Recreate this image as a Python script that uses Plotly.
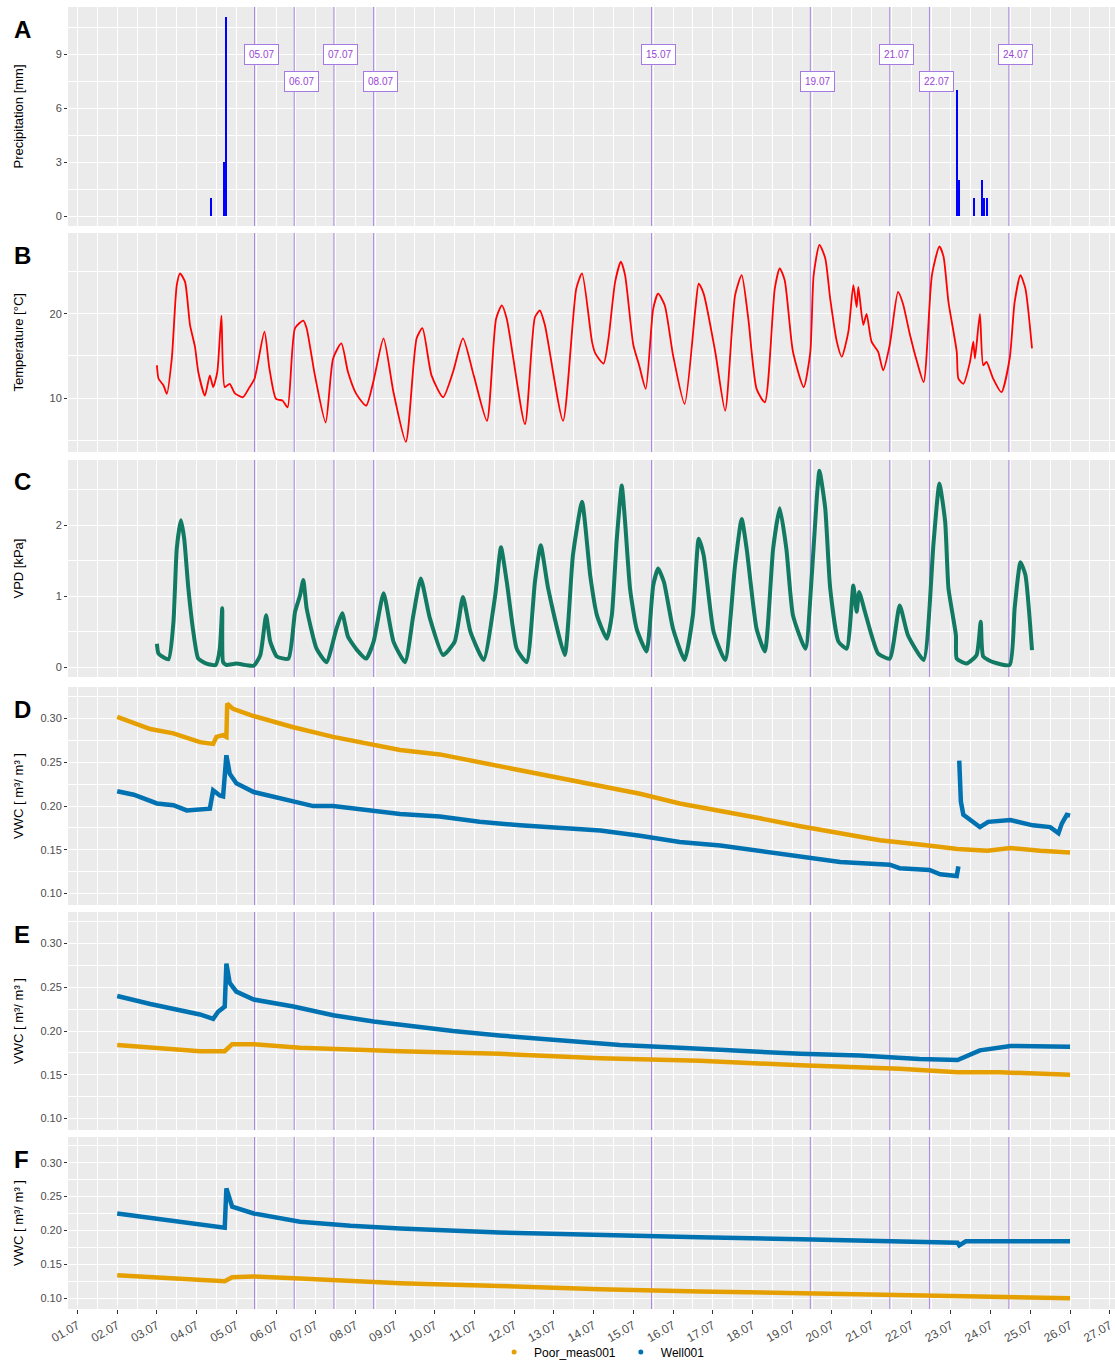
import pandas as pd
import plotly.graph_objects as go
from plotly.subplots import make_subplots

YEAR = 2021


def ts(labels):
    """Turn 'dd.mm HH:MM' strings into timestamps."""
    return pd.to_datetime([f"{YEAR}.{s}" for s in labels], format="%Y.%d.%m %H:%M")


# ---------------- data ----------------
precip_times = ["04.07 09:00", "04.07 17:00", "04.07 18:00",
                "23.07 04:00", "23.07 05:00", "23.07 14:00",
                "23.07 19:00", "23.07 20:00", "23.07 22:00"]
precip_mm = [1.0, 3.0, 11.1, 7.0, 2.0, 1.0, 2.0, 1.0, 1.0]

temp_times = [
    "03.07 00:00", "03.07 01:00", "03.07 04:00", "03.07 06:00", "03.07 09:00", "03.07 12:00",
    "03.07 14:00", "03.07 17:00", "03.07 20:00", "03.07 23:00", "04.07 01:00", "04.07 05:00",
    "04.07 08:00", "04.07 10:00", "04.07 12:30", "04.07 15:00", "04.07 17:00", "04.07 20:00",
    "04.07 23:00", "05.07 04:00", "05.07 08:00", "05.07 11:00", "05.07 17:00", "05.07 20:00",
    "06.07 00:00", "06.07 04:00", "06.07 07:00", "06.07 11:30", "06.07 16:30", "06.07 18:30",
    "06.07 23:30", "07.07 06:00", "07.07 10:30", "07.07 15:30", "07.07 19:30", "08.07 00:30",
    "08.07 06:30", "08.07 11:00", "08.07 17:00", "08.07 23:00", "09.07 06:30", "09.07 13:00",
    "09.07 16:30", "09.07 22:00", "10.07 05:00", "10.07 11:00", "10.07 17:00", "10.07 23:30",
    "11.07 07:30", "11.07 13:00", "11.07 16:30", "11.07 19:30", "12.07 06:30", "12.07 12:30",
    "12.07 15:30", "12.07 18:30", "13.07 05:30", "13.07 13:30", "13.07 17:00", "13.07 23:00",
    "14.07 01:00", "14.07 06:00", "14.07 09:00", "14.07 13:00", "14.07 16:30", "14.07 19:00",
    "15.07 00:00", "15.07 03:30", "15.07 07:30", "15.07 12:00", "15.07 15:00", "15.07 19:00",
    "16.07 00:00", "16.07 07:00", "16.07 13:30", "16.07 15:30", "16.07 18:30", "17.07 01:30",
    "17.07 07:30", "17.07 13:30", "17.07 17:30", "17.07 21:30", "18.07 02:30", "18.07 07:30",
    "18.07 13:30", "18.07 16:30", "18.07 19:30", "19.07 00:30", "19.07 07:00", "19.07 11:00",
    "19.07 13:00", "19.07 16:30", "19.07 20:00", "19.07 23:00", "20.07 03:00", "20.07 06:00",
    "20.07 10:00", "20.07 13:00", "20.07 15:00", "20.07 16:00", "20.07 19:00", "20.07 21:00",
    "21.07 00:00", "21.07 04:00", "21.07 07:00", "21.07 11:00", "21.07 16:00", "21.07 19:00",
    "21.07 23:00", "22.07 03:30", "22.07 07:30", "22.07 12:30", "22.07 17:00", "22.07 19:30",
    "22.07 22:30", "23.07 03:30", "23.07 04:30", "23.07 07:30", "23.07 11:30", "23.07 13:30",
    "23.07 14:30", "23.07 17:30", "23.07 19:30", "23.07 21:30", "24.07 01:30", "24.07 06:30",
    "24.07 11:30", "24.07 14:30", "24.07 18:00", "24.07 21:00", "25.07 01:00"]
temp_c = [
    13.9, 12.3, 11.5, 10.5, 14.7, 23.4,
    24.8, 23.8, 18.7, 16.1, 13.1, 10.3,
    12.7, 11.3, 13.1, 19.8, 11.3, 11.7,
    10.6, 10.1, 11.3, 12.3, 17.9, 13.5,
    9.9, 9.7, 8.9, 18.3, 19.2, 18.3,
    12.7, 7.1, 14.7, 16.5, 13.1, 10.5,
    9.1, 12.1, 17.1, 10.7, 4.8, 17.1,
    18.3, 12.7, 10.1, 13.1, 17.1, 12.7,
    7.3, 19.4, 21.0, 19.4, 6.9, 19.6,
    20.4, 18.7, 7.3, 23.0, 24.8, 16.7,
    15.3, 14.1, 17.1, 23.8, 26.2, 24.6,
    16.3, 13.9, 11.1, 20.6, 22.4, 21.0,
    15.1, 9.3, 20.6, 23.6, 22.4, 15.5,
    8.5, 22.2, 24.6, 19.4, 11.1, 9.5,
    23.0, 25.4, 24.0, 15.5, 11.3, 15.5,
    24.6, 28.2, 26.6, 21.8, 16.7, 14.9,
    17.9, 23.4, 20.8, 23.2, 18.7, 20.0,
    16.7, 15.5, 13.3, 16.3, 22.6, 21.2,
    17.7, 14.3, 11.9, 24.6, 28.0, 26.8,
    21.4, 15.5, 12.3, 11.7, 14.3, 16.7,
    14.7, 20.0, 13.9, 14.3, 12.3, 10.7,
    14.7, 21.4, 24.6, 23.0, 15.9]

vpd_times = [
    "03.07 00:00", "03.07 01:00", "03.07 07:00", "03.07 10:00", "03.07 12:00", "03.07 14:30",
    "03.07 16:30", "03.07 19:00", "03.07 22:00", "04.07 01:00", "04.07 06:00", "04.07 11:30",
    "04.07 14:00", "04.07 15:30", "04.07 16:00", "04.07 18:00", "05.07 00:00", "05.07 10:30",
    "05.07 14:30", "05.07 18:00", "05.07 20:30", "06.07 00:30", "06.07 07:30", "06.07 11:30",
    "06.07 14:30", "06.07 16:30", "06.07 18:30", "07.07 00:30", "07.07 06:30", "07.07 12:30",
    "07.07 16:00", "07.07 19:30", "08.07 01:00", "08.07 06:30", "08.07 11:00", "08.07 17:00",
    "08.07 23:00", "09.07 06:00", "09.07 11:00", "09.07 15:30", "09.07 21:00", "10.07 05:00",
    "10.07 12:00", "10.07 17:00", "10.07 21:30", "11.07 05:30", "11.07 12:30", "11.07 16:00",
    "11.07 19:30", "12.07 01:30", "12.07 07:30", "12.07 12:30", "12.07 16:00", "12.07 20:30",
    "13.07 06:30", "13.07 11:30", "13.07 17:00", "13.07 22:00", "14.07 02:00", "14.07 08:00",
    "14.07 11:00", "14.07 14:00", "14.07 17:00", "14.07 19:00", "14.07 22:00", "15.07 02:00",
    "15.07 08:00", "15.07 12:00", "15.07 15:00", "15.07 18:30", "16.07 00:00", "16.07 07:00",
    "16.07 12:00", "16.07 15:30", "16.07 18:30", "17.07 00:30", "17.07 07:30", "17.07 13:30",
    "17.07 17:30", "17.07 20:30", "18.07 02:30", "18.07 07:30", "18.07 12:30", "18.07 16:30",
    "18.07 20:30", "19.07 00:30", "19.07 08:00", "19.07 12:00", "19.07 15:00", "19.07 16:30",
    "19.07 20:00", "19.07 23:00", "20.07 04:00", "20.07 09:00", "20.07 13:00", "20.07 15:00",
    "20.07 16:30", "20.07 20:00", "21.07 00:00", "21.07 04:00", "21.07 11:00", "21.07 17:00",
    "21.07 22:00", "22.07 07:30", "22.07 13:30", "22.07 17:00", "22.07 20:30", "22.07 22:30",
    "23.07 03:00", "23.07 03:30", "23.07 09:30", "23.07 15:30", "23.07 18:00", "23.07 19:30",
    "24.07 01:30", "24.07 11:30", "24.07 14:30", "24.07 18:00", "24.07 21:00", "25.07 01:00"]
vpd_kpa = [
    0.33, 0.19, 0.11, 0.64, 1.67, 2.07,
    1.81, 1.11, 0.50, 0.12, 0.05, 0.03,
    0.26, 0.83, 0.07, 0.03, 0.05, 0.02,
    0.17, 0.73, 0.36, 0.15, 0.12, 0.78,
    1.01, 1.23, 0.83, 0.26, 0.07, 0.54,
    0.76, 0.43, 0.24, 0.12, 0.36, 1.04,
    0.36, 0.07, 0.73, 1.25, 0.69, 0.17,
    0.36, 0.99, 0.50, 0.10, 1.01, 1.69,
    1.20, 0.26, 0.07, 1.20, 1.72, 1.11,
    0.17, 1.58, 2.33, 1.28, 0.73, 0.40,
    0.73, 1.81, 2.56, 2.05, 1.11, 0.54,
    0.22, 1.15, 1.39, 1.20, 0.54, 0.10,
    0.73, 1.81, 1.58, 0.50, 0.10, 1.44,
    2.09, 1.67, 0.54, 0.22, 1.67, 2.24,
    1.67, 0.73, 0.26, 1.34, 2.42, 2.77,
    2.24, 1.11, 0.36, 0.26, 1.15, 0.78,
    1.06, 0.78, 0.45, 0.19, 0.12, 0.87,
    0.45, 0.10, 1.76, 2.59, 2.05, 1.11,
    0.45, 0.12, 0.05, 0.17, 0.64, 0.15,
    0.07, 0.03, 0.83, 1.48, 1.30, 0.24]

# soil moisture, depth D
d_poor_times = ["02.07 00:00", "02.07 20:00", "03.07 10:00", "04.07 02:00", "04.07 10:00", "04.07 12:00",
                "04.07 16:00", "04.07 18:00", "04.07 18:30", "04.07 22:00", "05.07 10:00", "06.07 10:30",
                "07.07 10:30", "08.07 09:00", "09.07 03:00", "10.07 03:00", "11.07 03:00", "12.07 03:30",
                "13.07 03:40", "14.07 04:00", "15.07 04:00", "16.07 04:00", "17.07 04:30", "18.07 04:30",
                "19.07 05:00", "20.07 05:00", "21.07 05:00", "22.07 05:00", "23.07 04:00", "23.07 22:00",
                "24.07 12:00", "25.07 06:00", "26.07 00:00"]
d_poor_vwc = [0.302, 0.288, 0.283, 0.273, 0.271, 0.279,
              0.281, 0.279, 0.317, 0.311, 0.303, 0.290,
              0.279, 0.271, 0.264, 0.259, 0.250, 0.241,
              0.232, 0.223, 0.214, 0.203, 0.195, 0.186,
              0.177, 0.169, 0.161, 0.156, 0.151, 0.149,
              0.152, 0.149, 0.147]

d_well_times = ["02.07 00:00", "02.07 10:00", "03.07 00:00", "03.07 10:00", "03.07 18:00", "04.07 08:00",
                "04.07 10:00", "04.07 14:00", "04.07 16:00", "04.07 18:00", "04.07 20:00", "05.07 00:00",
                "05.07 10:30", "06.07 10:30", "06.07 22:30", "07.07 10:30", "08.07 07:00", "09.07 03:00",
                "10.07 03:00", "11.07 03:00", "12.07 03:30", "13.07 03:40", "14.07 04:00", "15.07 04:00",
                "16.07 04:00", "17.07 04:30", "18.07 04:30", "19.07 05:00", "19.07 17:00", "20.07 05:00",
                "21.07 11:00", "21.07 17:00", "22.07 11:00", "22.07 17:30", "23.07 03:30", "23.07 04:30",
                "23.07 04:45", "23.07 05:00", "23.07 05:30", "23.07 06:00", "23.07 07:30", "23.07 17:30",
                "23.07 22:30", "24.07 12:00", "25.07 01:30", "25.07 12:00", "25.07 17:00", "25.07 19:00",
                "25.07 22:00", "26.07 00:00"]
d_well_vwc = [0.217, 0.213, 0.203, 0.201, 0.195, 0.197,
              0.218, 0.212, 0.211, 0.258, 0.237, 0.226,
              0.216, 0.205, 0.200, 0.200, 0.195, 0.191,
              0.188, 0.182, 0.178, 0.175, 0.172, 0.166,
              0.159, 0.155, 0.149, 0.142, 0.139, 0.136,
              0.133, 0.129, 0.127, 0.122, 0.120, 0.131,
              None, 0.252, 0.236, 0.205, 0.190, 0.176,
              0.182, 0.184, 0.178, 0.176, 0.169, 0.180,
              0.190, 0.189]

# soil moisture, depth E
e_poor_times = ["02.07 00:00", "02.07 20:00", "04.07 02:00", "04.07 17:00", "04.07 21:30", "05.07 10:30",
                "06.07 14:30", "09.07 03:00", "11.07 15:00", "14.07 04:00", "16.07 16:00", "19.07 05:00",
                "21.07 17:00", "23.07 04:00", "24.07 05:30", "26.07 00:00"]
e_poor_vwc = [0.184, 0.181, 0.177, 0.177, 0.185, 0.185,
              0.181, 0.177, 0.174, 0.169, 0.166, 0.161,
              0.157, 0.153, 0.153, 0.150]

e_well_times = ["02.07 00:00", "02.07 20:00", "04.07 02:00", "04.07 10:00", "04.07 13:00", "04.07 17:00",
                "04.07 18:00", "04.07 20:00", "05.07 00:00", "05.07 10:30", "06.07 10:30", "07.07 10:30",
                "08.07 11:00", "09.07 11:00", "10.07 11:00", "11.07 15:00", "13.07 03:40", "14.07 16:00",
                "16.07 04:00", "17.07 16:30", "19.07 05:00", "20.07 17:00", "22.07 05:00", "23.07 04:00",
                "23.07 17:30", "24.07 12:00", "25.07 06:00", "26.07 00:00"]
e_well_vwc = [0.240, 0.231, 0.219, 0.214, 0.222, 0.228,
              0.277, 0.255, 0.245, 0.236, 0.228, 0.218,
              0.211, 0.205, 0.200, 0.195, 0.190, 0.184,
              0.181, 0.177, 0.174, 0.172, 0.168, 0.167,
              0.178, 0.183, 0.182, 0.182]

# soil moisture, depth F
f_poor_times = ["02.07 00:00", "04.07 02:00", "04.07 17:00", "04.07 21:30", "05.07 10:30", "06.07 14:30",
                "09.07 03:00", "11.07 15:00", "14.07 04:00", "16.07 16:00", "19.07 05:00", "21.07 17:00",
                "24.07 05:30", "26.07 00:00"]
f_poor_vwc = [0.134, 0.128, 0.125, 0.131, 0.132, 0.129,
              0.122, 0.118, 0.113, 0.110, 0.107, 0.104,
              0.101, 0.100]

f_well_times = ["02.07 00:00", "02.07 20:00", "04.07 02:00", "04.07 17:00", "04.07 18:00", "04.07 21:30",
                "05.07 10:30", "06.07 14:30", "07.07 21:00", "09.07 03:00", "11.07 15:00", "14.07 04:00",
                "16.07 16:00", "19.07 05:00", "21.07 17:00", "23.07 04:00", "23.07 05:00", "23.07 09:00",
                "26.07 00:00"]
f_well_vwc = [0.225, 0.219, 0.209, 0.204, 0.262, 0.235,
              0.225, 0.213, 0.207, 0.203, 0.197, 0.193,
              0.190, 0.187, 0.184, 0.182, 0.178, 0.184,
              0.184]

# marked days (vertical guides) and the row their label sits on
event_times = ["05.07 11:00", "06.07 11:00", "07.07 11:00", "08.07 11:00", "15.07 11:00",
               "19.07 11:00", "21.07 11:00", "22.07 11:00", "24.07 11:00"]
event_labels = ["05.07", "06.07", "07.07", "08.07", "15.07", "19.07", "21.07", "22.07", "24.07"]
event_label_y = [9, 7.5, 9, 7.5, 9, 7.5, 9, 7.5, 9]

panel_letters = ["A", "B", "C", "D", "E", "F"]
y_titles = ["Precipitation [mm]", "Temperature [°C]", "VPD [kPa]",
            "VWC [ m³/ m³ ]", "VWC [ m³/ m³ ]", "VWC [ m³/ m³ ]"]

# ---------------- styling ----------------
W, H = 1115, 1362
FONT = "Liberation Sans, Arial, Helvetica, sans-serif"
POOR = "#E69F00"
WELL = "#0072B2"
PURPLE = "#A57BE3"
LABEL_PURPLE = "#9B45D6"
PANEL_BG = "#EBEBEB"
TICK_TXT = "#4D4D4D"

# panel top/bottom in pixels
panel_px = [(7, 226), (233, 452), (460, 677), (687, 905), (912, 1130), (1137, 1309)]
x_left_px = 68
x_range = [f"{YEAR}-06-30 18:15", f"{YEAR}-07-27 03:10"]

y_ranges = [[-0.555, 11.65], [3.6, 29.6], [-0.139, 2.92],
            [0.087, 0.336], [0.087, 0.336], [0.084, 0.338]]
y_ticks = [[0, 3, 6, 9], [10, 20], [0, 1, 2],
           [0.10, 0.15, 0.20, 0.25, 0.30], [0.10, 0.15, 0.20, 0.25, 0.30],
           [0.10, 0.15, 0.20, 0.25, 0.30]]
y_minor = [1.5, 5, 0.5, 0.025, 0.025, 0.025]
y_fmt = ["d", "d", "d", ".2f", ".2f", ".2f"]

fig = make_subplots(rows=6, cols=1, shared_xaxes=True)

# vertical guides on every panel, drawn first so they sit under the data
ev_ts = ts(event_times)
for i in range(6):
    gx, gy = [], []
    for t in ev_ts:
        gx += [t, t, None]
        gy += [y_ranges[i][0], y_ranges[i][1], None]
    fig.add_trace(go.Scatter(x=gx, y=gy, mode="lines", hoverinfo="skip",
                             line=dict(color=PURPLE, width=0.9), showlegend=False),
                  row=i + 1, col=1)

fig.add_trace(go.Bar(x=ts(precip_times), y=precip_mm, width=3600000 * 1.1,
                     marker=dict(color="#0000FF", line=dict(width=0)),
                     showlegend=False), row=1, col=1)

fig.add_trace(go.Scatter(x=ts(temp_times), y=temp_c, mode="lines",
                         line=dict(color="#FF0000", width=1.8, shape="spline", smoothing=0.6),
                         showlegend=False),
              row=2, col=1)

fig.add_trace(go.Scatter(x=ts(vpd_times), y=vpd_kpa, mode="lines",
                         line=dict(color="#127A62", width=4, shape="spline", smoothing=0.5),
                         showlegend=False),
              row=3, col=1)

vwc_sets = [
    (4, d_poor_times, d_poor_vwc, d_well_times, d_well_vwc),
    (5, e_poor_times, e_poor_vwc, e_well_times, e_well_vwc),
    (6, f_poor_times, f_poor_vwc, f_well_times, f_well_vwc),
]
for row, pt, pv, wt, wv in vwc_sets:
    fig.add_trace(go.Scatter(x=ts(pt), y=pv, mode="lines",
                             line=dict(color=POOR, width=4.5), showlegend=False),
                  row=row, col=1)
    fig.add_trace(go.Scatter(x=ts(wt), y=wv, mode="lines",
                             line=dict(color=WELL, width=4.5), showlegend=False),
                  row=row, col=1)

# legend keys
fig.add_trace(go.Scatter(x=[None], y=[None], mode="markers", name="Poor_meas001",
                         marker=dict(color=POOR, size=5)), row=6, col=1)
fig.add_trace(go.Scatter(x=[None], y=[None], mode="markers", name="Well001",
                         marker=dict(color=WELL, size=5)), row=6, col=1)

annotations = []
for i in range(6):
    top, bot = panel_px[i]
    ax = "" if i == 0 else str(i + 1)
    fig.layout[f"yaxis{ax}"].update(
        domain=[1 - bot / H, 1 - top / H], automargin=False,
        range=y_ranges[i], tickmode="array", tickvals=y_ticks[i], tickformat=y_fmt[i],
        showgrid=True, gridcolor="white", gridwidth=1.1, zeroline=False,
        ticks="outside", ticklen=3, tickwidth=1, tickcolor="#333333",
        tickfont=dict(family=FONT, size=11, color=TICK_TXT),
        minor=dict(dtick=y_minor[i], tick0=0, showgrid=True, gridcolor="white",
                   gridwidth=0.5, ticks=""),
        showline=False, fixedrange=True,
    )
    fig.layout[f"xaxis{ax}"].update(
        domain=[x_left_px / W, 1.0], range=x_range, type="date", automargin=False,
        tickmode="linear", tick0=f"{YEAR}-07-01", dtick=86400000,
        showgrid=True, gridcolor="white", gridwidth=1.1, zeroline=False,
        minor=dict(dtick=43200000, tick0=f"{YEAR}-07-01", showgrid=True,
                   gridcolor="white", gridwidth=0.5, ticks=""),
        showline=False,
    )
    if i < 5:
        fig.layout[f"xaxis{ax}"].update(showticklabels=False, ticks="")
    else:
        fig.layout[f"xaxis{ax}"].update(
            showticklabels=True, tickformat="%d.%m", tickangle=-30,
            ticks="outside", ticklen=4, tickwidth=1, tickcolor="#333333",
            tickfont=dict(family=FONT, size=12, color=TICK_TXT))

    # panel letter
    annotations.append(dict(text=f"<b>{panel_letters[i]}</b>", xref="paper", yref="paper",
                            x=12 / W, y=1 - (top + 22) / H, xanchor="left", yanchor="middle",
                            showarrow=False, font=dict(family=FONT, size=24, color="black")))
    # axis title
    annotations.append(dict(text=y_titles[i], xref="paper", yref="paper",
                            x=18 / W, y=1 - (top + bot) / 2 / H, xanchor="center",
                            yanchor="middle", textangle=-90, showarrow=False,
                            font=dict(family=FONT, size=13, color="black")))

for t, lab, ly in zip(ev_ts, event_labels, event_label_y):
    annotations.append(dict(text=lab, x=t, y=ly, xref="x", yref="y", xshift=7,
                            showarrow=False, bgcolor="white", bordercolor=PURPLE,
                            borderwidth=1, borderpad=4,
                            font=dict(family=FONT, size=10, color=LABEL_PURPLE)))

fig.update_layout(
    width=W, height=H, margin=dict(l=0, r=0, t=0, b=0, autoexpand=False),
    paper_bgcolor="white", plot_bgcolor=PANEL_BG,
    font=dict(family=FONT, color="black"),
    annotations=annotations, bargap=0, barmode="overlay",
    legend=dict(orientation="h", x=0.54, xanchor="center", y=1 - 1352 / H, yanchor="middle",
                font=dict(family=FONT, size=12, color="black"), bgcolor="rgba(0,0,0,0)",
                itemwidth=30),
)

fig.write_html("out.html")
